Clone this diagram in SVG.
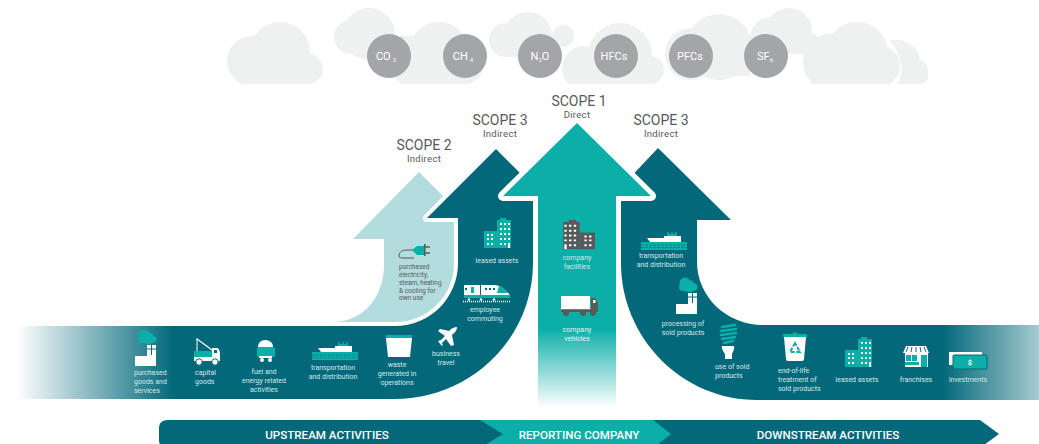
<svg xmlns="http://www.w3.org/2000/svg" width="1039" height="444" viewBox="0 0 1039 444">
<style>
text{font-family:"Roboto","Liberation Sans",sans-serif}
.cl{fill:#eff1f1}
.gas{fill:#a4a5a8}
.gt{fill:#fff;font-size:11px;text-anchor:middle}
.sub{fill:#fff;font-size:6px}
.sc{fill:#58595b;font-size:14px;text-anchor:middle}
.ind{fill:#58595b;font-size:9.5px;text-anchor:middle;letter-spacing:.3px}
.l{fill:#d3e8ea;font-size:7px}
.c{text-anchor:middle}
.g{fill:#58595b}
.bar{fill:#fff;font-size:11.6px;font-weight:500;text-anchor:middle}
.w{fill:#fff}.t{fill:#0bafa8}.d{fill:#03697a}.k{fill:#58595b}
</style>
<defs>
<linearGradient id="gl" gradientUnits="userSpaceOnUse" x1="17" y1="0" x2="173" y2="0"><stop offset="0" stop-color="#03697a" stop-opacity="0"/><stop offset="1" stop-color="#03697a"/></linearGradient>
<linearGradient id="gr" gradientUnits="userSpaceOnUse" x1="943" y1="0" x2="1091" y2="0"><stop offset="0" stop-color="#03697a"/><stop offset="1" stop-color="#03697a" stop-opacity="0"/></linearGradient>
<linearGradient id="gc" gradientUnits="userSpaceOnUse" x1="0" y1="330" x2="0" y2="408"><stop offset="0" stop-color="#0bafa8"/><stop offset=".1" stop-color="#2ab9b3"/><stop offset="1" stop-color="#fff"/></linearGradient>
<clipPath id="sky"><rect x="200" y="0" width="760" height="84"/></clipPath>
<g id="factory">
<circle cx="9" cy="-10" r="5.500" class="t"/><circle cx="14" cy="-8" r="4.500" class="t"/><circle cx="7" cy="-6" r="4" class="t"/><circle cx="18" cy="-6" r="3.500" class="t"/><ellipse cx="13" cy="-4" rx="6" ry="3" class="t"/>
<path class="w" d="M0,21V11H12V0H21V21Z"/>
<path d="M16.500,0V10M12,4H21" stroke="#03697a" stroke-width="1"/>
</g>
<g id="ship">
<rect x="26" y="2" width="10" height="3" class="t"/><path d="M27,2V0M31,2V0M35,2V0" stroke="#0bafa8" stroke-width="1.500"/>
<path class="w" d="M6,6H23V4H40V10H9Z"/>
<rect x="0" y="10" width="46" height="8" class="t"/><path d="M0,13H46M0,15.500H46" stroke="#03697a" stroke-width=".6" stroke-dasharray="3 1"/>
</g>
<g id="bldg">
<path d="M13,2H16V0H22V2H27V30H13Z"/><rect x="0" y="13" width="13" height="17"/>
<g class="w"><path d="M16,5h2v2h-2zM20,5h2v2h-2zM24,5h2v2h-2zM16,10h2v2h-2zM20,10h2v2h-2zM24,10h2v2h-2zM16,15h2v2h-2zM20,15h2v2h-2zM24,15h2v2h-2zM16,20h2v2h-2zM20,20h2v2h-2zM24,20h2v2h-2zM16,25h2v2h-2zM20,25h2v2h-2zM24,25h2v5h-2zM3,16h2v2h-2zM7,16h2v2h-2zM3,20h2v2h-2zM7,20h2v2h-2zM3,25h2v2h-2zM7,25h2v2h-2z"/></g>
</g>
</defs>

<g id="clouds" clip-path="url(#sky)">
<g class="cl">
<circle cx="280" cy="52" r="30"/><circle cx="252" cy="61" r="25"/><circle cx="308" cy="69" r="15"/><rect x="252" y="60" width="60" height="24"/>
<circle cx="369" cy="34" r="26"/><circle cx="351" cy="37" r="17"/><rect x="348" y="40" width="50" height="14"/>
<circle cx="439" cy="52" r="30"/><circle cx="412" cy="64" r="22"/><circle cx="465" cy="66" r="18"/><rect x="400" y="36" width="60" height="48"/>
<circle cx="528" cy="36" r="24"/><circle cx="506" cy="40" r="17"/><circle cx="540" cy="48" r="11"/><rect x="506" y="45" width="40" height="12"/>
<circle cx="620" cy="55" r="32"/><circle cx="584" cy="68" r="22"/><circle cx="650" cy="70" r="14"/><circle cx="563" cy="36" r="11"/><rect x="570" y="60" width="80" height="24"/>
<circle cx="719" cy="47" r="33"/><circle cx="691" cy="54" r="26"/><rect x="690" y="60" width="60" height="16"/>
<circle cx="789" cy="31" r="23"/><circle cx="771" cy="38" r="21"/><circle cx="808" cy="44" r="12"/><rect x="771" y="38" width="48" height="16"/>
<circle cx="857" cy="53" r="31"/><circle cx="832" cy="62" r="29"/><circle cx="880" cy="66" r="20"/><rect x="825" y="36" width="55" height="48"/>
</g>
<path d="M890,40C906,38 918,46 920,60C927,62 930,72 928,78C926,84 922,84 915,84H897C904,75 904,60 890,40Z" class="cl"/>
</g>

<g id="gases">
<g id="co2"><circle class="gas" cx="389" cy="56" r="22"/><text class="gt" x="386" y="60">CO<tspan class="sub" dx="2" dy="2">2</tspan></text></g>
<g id="ch4"><circle class="gas" cx="465" cy="56" r="22"/><text class="gt" x="463" y="60">CH<tspan class="sub" dx="2" dy="2">4</tspan></text></g>
<g id="n2o"><circle class="gas" cx="540" cy="56" r="22"/><text class="gt" x="540" y="60">N<tspan class="sub" dy="2">2</tspan><tspan dy="-2">O</tspan></text></g>
<g id="hfcs"><circle class="gas" cx="616" cy="56" r="22"/><text class="gt" x="614" y="60">HFCs</text></g>
<g id="pfcs"><circle class="gas" cx="691" cy="56" r="22"/><text class="gt" x="690" y="60">PFCs</text></g>
<g id="sf6"><circle class="gas" cx="766" cy="56" r="22"/><text class="gt" x="765" y="60">SF<tspan class="sub" dy="2">6</tspan></text></g>
</g>

<g id="connectors">
<path id="arrow-scope2" fill="#b3dcde" d="M419,172L480,233V322H333C362,322 384,298 384,265V239H353Z"/>
<path id="arrow-scope3-up" fill="url(#gl)" stroke="#fff" stroke-width="8" stroke-linejoin="round" paint-order="stroke" d="M18,326H395C430,326 458,298 458,263V218H427L496,149L560,213H533V263C533,338 471,399 395,399H18Z"/>
<path id="arrow-scope3-down" fill="url(#gr)" d="M658,148L731,220H697V262C697,297 727,325 763,325H1039V400H757C682,400 621,338 621,263V220H590Z"/>
<path id="arrow-scope1" fill="url(#gc)" stroke="#fff" stroke-width="10" stroke-linejoin="round" paint-order="stroke" d="M577,123L651,196H616V408H538V196H503Z"/>
</g>

<g id="scope2-head"><text class="sc" x="424" y="150">SCOPE 2</text><text class="ind" x="424" y="162">Indirect</text></g>
<g id="scope3-left-head"><text class="sc" x="500" y="125">SCOPE 3</text><text class="ind" x="500" y="137">Indirect</text></g>
<g id="scope1-head"><text class="sc" x="579" y="106">SCOPE 1</text><text class="ind" x="577" y="118">Direct</text></g>
<g id="scope3-right-head"><text class="sc" x="661" y="125">SCOPE 3</text><text class="ind" x="661" y="137">Indirect</text></g>

<g id="n-purchased-goods"><use href="#factory" x="135" y="345"/><text class="l" x="134"><tspan x="134" y="375">purchased</tspan><tspan x="134" y="384">goods and</tspan><tspan x="134" y="393">services</tspan></text></g>

<g id="n-capital-goods">
<path d="M197,339L212,350" stroke="#fff" stroke-width="1.200"/><path d="M197,338V352" stroke="#fff" stroke-width="1"/>
<rect class="t" x="194" y="351" width="18" height="6"/><path class="w" d="M212,348H218L220,352V361H194V357H212Z"/><rect x="214" y="350" width="3" height="3" class="d"/>
<circle class="w" cx="199" cy="362" r="3.200" stroke="#03697a"/><circle class="w" cx="215" cy="362" r="3.200" stroke="#03697a"/>
<text class="l" x="195"><tspan x="195" y="375">capital</tspan><tspan x="195" y="384">goods</tspan></text></g>

<g id="n-fuel">
<path class="w" d="M258,347C258,343 261,340 265,340C270,340 273,343 273,347Z"/><rect class="t" x="257" y="347" width="18" height="10" rx="1.500"/><rect class="w" x="259" y="356" width="13" height="2"/><circle class="w" cx="262" cy="360" r="2"/><circle class="w" cx="270" cy="360" r="2"/>
<text class="l c"><tspan x="264" y="374">fuel and</tspan><tspan x="264" y="383">energy related</tspan><tspan x="264" y="392">activities</tspan></text></g>

<g id="n-transport-up"><use href="#ship" x="312" y="342"/><text class="l c"><tspan x="333" y="370">transportation</tspan><tspan x="333" y="379">and distribution</tspan></text></g>

<g id="n-waste"><rect class="t" x="386" y="335" width="26" height="3"/><path class="w" d="M386,338H412L410,357H388Z"/><text class="l c"><tspan x="397" y="367">waste</tspan><tspan x="397" y="376">generated in</tspan><tspan x="397" y="385">operations</tspan></text></g>

<g id="n-travel"><path class="w" d="M457,327C457,331 454,333 452,335L454,345L451,346L446,339L442,343L443,346L441,345L438,341L441,340L445,336L438,331L440,329L449,331C452,328 454,327 457,327Z"/><text class="l c"><tspan x="446" y="356">business</tspan><tspan x="446" y="365">travel</tspan></text></g>

<g id="n-commuting">
<path class="w" d="M464,285H480V295H464ZM481,285H494C500,285 506,290 510,295H481Z"/>
<g class="t"><rect x="464" y="295" width="46" height="3"/><path d="M499,286C503,287 506,290 508,293H497Z"/><rect x="471" y="287" width="3" height="6"/></g>
<path d="M465,288h2v2h-2zM485,288h2v2h-2zM489,288h2v2h-2zM493,288h2v2h-2z" class="d"/>
<path d="M463,301.500H510" stroke="#fff" stroke-width="1.500" stroke-dasharray="1 1"/><circle class="w" cx="469" cy="299.500" r="1.200"/><circle class="w" cx="481" cy="299.500" r="1.200"/><circle class="w" cx="494" cy="299.500" r="1.200"/>
<text class="l c"><tspan x="485" y="312">employee</tspan><tspan x="485" y="321">commuting</tspan></text></g>

<g id="n-leased-up"><use href="#bldg" x="484" y="218" class="t"/><text class="l c" x="497" y="263">leased assets</text></g>

<g id="n-electricity">
<path d="M413,250H407C401,250 399,253 399,256C399,258 401,258 404,258H414" fill="none" stroke="#58595b" stroke-width="1"/>
<path class="t" d="M412,250L417,246H424V255H417Z"/><path d="M424,247H430M424,253H430" stroke="#58595b" stroke-width="1.500"/><rect x="424" y="244" width="1.500" height="12" class="k"/>
<g class="g" style="font-size:6.500px"><text x="399" y="269">purchased</text><text x="399" y="277">electricity,</text><text x="399" y="285">steam, heating</text><text x="399" y="292.500">&amp; cooling for</text><text x="399" y="300">own use</text></g></g>

<g id="n-facilities"><use href="#bldg" transform="translate(595,220) scale(-1.180,.97)" class="k"/><text class="l c"><tspan x="577" y="260">company</tspan><tspan x="577" y="269">facilities</tspan></text></g>

<g id="n-vehicles">
<rect class="w" x="561" y="296" width="29" height="13"/><path class="k" d="M591,298H595L598,303V312H561V310H591Z"/><rect x="593" y="300" width="2.500" height="3" class="w"/>
<circle class="k" cx="566" cy="313" r="3"/><circle class="k" cx="583" cy="313" r="3"/><circle class="k" cx="593" cy="313" r="3"/>
<text class="l c" style="fill:#e3f4f3"><tspan x="577" y="332">company</tspan><tspan x="577" y="341">vehicles</tspan></text></g>

<g id="n-transport-down"><use href="#ship" x="641" y="232"/><text class="l c"><tspan x="661" y="258">transportation</tspan><tspan x="661" y="267">and distribution</tspan></text></g>

<g id="n-processing"><use href="#factory" x="676" y="293"/><text class="l c"><tspan x="683" y="326">processing of</tspan><tspan x="683" y="335">sold products</tspan></text></g>

<g id="n-use">
<path d="M722,327L735,325M721,331L736,329M721,335L736,333M722,339L735,337M724,343L733,341" stroke="#0bafa8" stroke-width="2.500" stroke-linecap="round"/>
<path class="w" d="M722,346H734C735,350 732,352 732,355V359H725V355C725,352 721,350 722,346Z"/>
<text class="l"><tspan x="715" y="369">use of sold</tspan><tspan x="715" y="378">products</tspan></text></g>

<g id="n-endoflife">
<path class="t" d="M783,335V334H792L795,332L798,334H807V335Z"/><rect class="t" x="783" y="334" width="24" height="3"/><path class="w" d="M784,337H806L804,359C804,360 803,361 802,361H788C787,361 786,360 786,359Z"/>
<path d="M795,343L790,352H800Z" fill="none" stroke="#0bafa8" stroke-width="2" stroke-dasharray="4 1.500"/>
<text class="l"><tspan x="778" y="373">end-of-life</tspan><tspan x="778" y="382">treatment of</tspan><tspan x="778" y="391">sold products</tspan></text></g>

<g id="n-leased-down"><use href="#bldg" x="845" y="337" class="t"/><text class="l c" x="857" y="382">leased assets</text></g>

<g id="n-franchises">
<path class="w" d="M906,346H926L929,353H903Z"/><path d="M908,347L906,352M912,347L911,352M916,347V352M920,347L921,352M924,347L926,352" stroke="#03697a" stroke-width="1"/>
<rect class="w" x="905" y="353" width="23" height="14"/><rect class="t" x="906" y="355" width="5" height="6"/><rect class="t" x="912" y="355" width="5" height="6"/><rect class="t" x="921" y="355" width="6" height="12"/><rect class="t" x="905" y="362" width="14" height="3"/>
<text class="l c" x="916" y="382">franchises</text></g>

<g id="n-investments">
<rect class="w" x="949" y="352" width="33" height="13"/><rect x="953" y="355" width="34" height="14" rx="1" class="t" stroke="#03697a" stroke-width="1"/>
<text x="970" y="365" text-anchor="middle" fill="#fff" font-size="7.500" font-weight="700">$</text>
<text class="l c" x="968" y="382">investments</text></g>

<g id="bars">
<path id="bar-downstream" class="d" d="M640,420H980L999,434L980,448H640Z"/>
<path id="bar-reporting" class="t" d="M470,420H653L671,434L653,448H470Z"/>
<path id="bar-upstream" class="d" d="M168,420H480L503,434L480,448H168C162,448 159,445 159,440V428C159,423 162,420 168,420Z"/>
<text class="bar" x="327" y="439">UPSTREAM ACTIVITIES</text>
<text class="bar" x="579" y="439">REPORTING COMPANY</text>
<text class="bar" x="828" y="439">DOWNSTREAM ACTIVITIES</text>
</g>
</svg>
